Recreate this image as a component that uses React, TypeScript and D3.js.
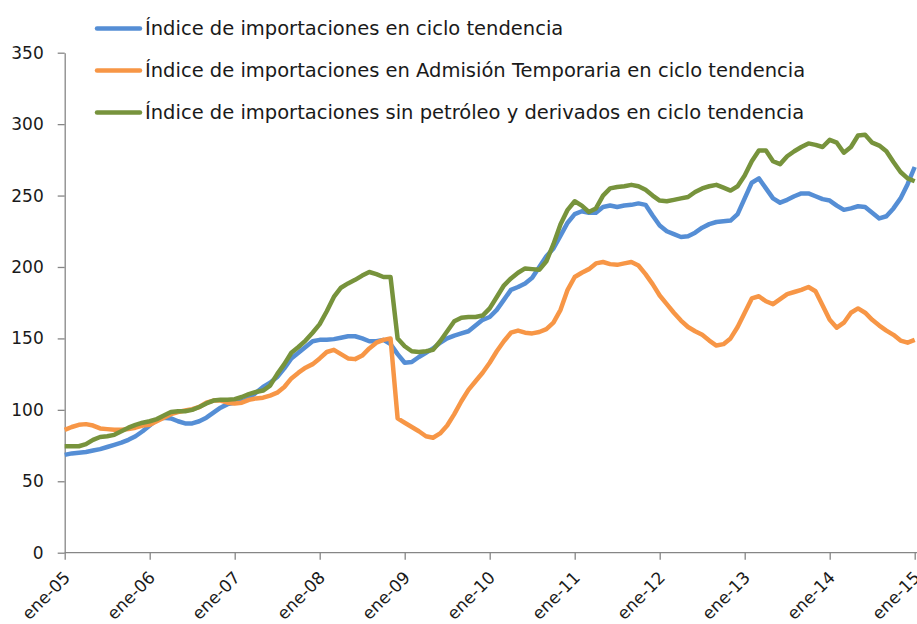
import React, { useRef, useEffect } from 'react';
import * as d3 from 'd3';

// monthly index values, ene-05 .. ene-15 (121 points)
const totalImports = [
  68.5, 69.5, 70, 70.5, 71.5, 72.5, 74, 75.5, 77, 79, 81.5, 85,
  89, 93, 94.5, 94, 92, 90.5, 90.5, 92, 94.5, 98, 101.5, 104,
  105, 106, 108, 112, 116, 119, 123, 129, 136, 140, 144, 148,
  149, 149, 149.5, 150.5, 151.5, 151.5, 150, 148, 148, 149, 146, 139,
  133, 133.5, 137, 140, 143, 147, 150, 152, 153.5, 155, 159, 163,
  165, 170, 177, 184, 186, 188.5, 192.5, 200, 207.5, 213, 222, 231,
  237, 239, 238, 238, 242, 243, 242, 243, 243.5, 244.5, 243.5, 236,
  229, 225, 223, 221, 221.5, 224, 227.5, 230, 231.5, 232, 232.5, 237,
  248, 259, 262, 255, 248, 245, 247, 249.5, 251.5, 251.5, 249.5, 247.5,
  246.5, 243, 240, 241, 242.5, 242, 238, 234, 235.5, 241, 248, 258,
  270,
];

const temporaryAdmission = [
  86, 88, 89.5, 90, 89, 87, 86.5, 86, 86, 86.5, 87.5, 89,
  89.5, 92, 94.5, 97, 98.5, 99.5, 100.5, 102, 105, 106.5, 106.5, 105,
  104.5, 105, 107, 108, 108.5, 110, 112, 116, 122, 126, 129.5, 132,
  136, 140.5, 142, 139, 136, 135.5, 138, 143, 147, 149, 150, 94,
  91, 88, 85, 81.5, 80.5, 83.5, 89, 97, 106, 114, 120, 126,
  133, 141, 148, 154, 155.5, 154, 153.5, 154.5, 156.5, 161, 170, 184,
  193, 196, 198.5, 202.5, 203.5, 202, 201.5, 202.5, 203.5, 201, 195, 188,
  180, 174, 168, 162.5, 158, 155, 152.5, 148.5, 145, 146, 150, 158,
  168, 178, 179.5, 176, 174, 177.5, 181, 182.5, 184, 186, 183, 173,
  163, 157.5, 161, 168, 171, 168, 163, 159, 155.5, 152.5, 148.5, 147,
  149,
];

const withoutOil = [
  74.5, 74.5, 74.5, 76, 79, 81, 81.5, 82.5, 85, 87.5, 89.5, 91,
  92, 93.5, 96, 98.5, 99, 99, 100, 102, 104.5, 106.5, 107, 107,
  107.5, 109, 111, 112.5, 113.5, 117, 125, 132, 140, 144, 148.5, 154,
  160, 169, 179, 185.5, 188.5, 191, 194, 196.5, 195, 193, 193, 150,
  144.5, 141, 140.5, 141, 142, 148, 155, 162, 164.5, 165, 165, 166,
  171, 179, 187, 192, 196, 199, 198.5, 198, 204, 216, 230, 240,
  246, 243, 238.5, 241, 250, 255, 256, 256.5, 257.5, 256.5, 254, 250,
  246.5, 246, 247, 248, 249, 252.5, 255, 256.5, 257.5, 255.5, 253.5, 256.5,
  264, 274, 281.5, 281.5, 274, 272, 277.5, 281, 284, 286.5, 285.5, 284,
  289, 287, 280, 284, 292, 292.5, 287, 285, 281, 273.5, 266.5, 262,
  260,
];

const yearLabels = ['ene-05', 'ene-06', 'ene-07', 'ene-08', 'ene-09', 'ene-10', 'ene-11', 'ene-12', 'ene-13', 'ene-14', 'ene-15'];
const yTicks = [0, 50, 100, 150, 200, 250, 300, 350];

const seriesNames = [
  'Índice de importaciones en ciclo tendencia',
  'Índice de importaciones en Admisión Temporaria en ciclo tendencia',
  'Índice de importaciones sin petróleo y derivados en ciclo tendencia',
];
const seriesData = [totalImports, temporaryAdmission, withoutOil];
const seriesColors = ['#558ED5', '#F79646', '#77933C'];

const App = () => {
  const svgRef = useRef<SVGSVGElement>(null);

  useEffect(() => {
    const width = 917;
    const height = 624;
    const margin = { top: 52.7, bottom: 71.3, left: 64.7 };
    const font = '"DejaVu Sans", Verdana, sans-serif';
    const axisColor = '#868686';

    const svg = d3.select(svgRef.current)
      .attr('width', width)
      .attr('height', height);
    svg.selectAll('*').remove();

    // 120 months, 85px per year
    const xScale = d3.scaleLinear()
      .domain([0, 120])
      .range([margin.left, margin.left + 850]);

    const yScale = d3.scaleLinear()
      .domain([0, 350])
      .range([height - margin.bottom, margin.top]);

    // y axis
    const yAxis = svg.append('g')
      .attr('transform', `translate(${margin.left},0)`)
      .call(d3.axisLeft(yScale).tickValues(yTicks).tickSize(7).tickSizeOuter(0));
    yAxis.select('.domain').attr('stroke', axisColor).attr('stroke-width', 1.3);
    yAxis.selectAll('.tick line').attr('stroke', axisColor).attr('stroke-width', 1.3);
    yAxis.selectAll('.tick text')
      .attr('x', -21)
      .attr('font-family', font)
      .attr('font-size', 17)
      .attr('fill', '#1a1a1a');

    // x axis
    const xAxis = svg.append('g')
      .attr('transform', `translate(0,${yScale(0)})`)
      .call(d3.axisBottom(xScale)
        .tickValues(yearLabels.map((_, i) => i * 12))
        .tickFormat((_, i) => yearLabels[i])
        .tickSize(7)
        .tickSizeOuter(0));
    xAxis.select('.domain').attr('stroke', axisColor).attr('stroke-width', 1.3)
      .attr('d', `M${margin.left},0H${width}`);
    xAxis.selectAll('.tick line').attr('stroke', axisColor).attr('stroke-width', 1.3);
    xAxis.selectAll('.tick text')
      .attr('font-family', font)
      .attr('font-size', 17)
      .attr('fill', '#1a1a1a')
      .attr('text-anchor', 'end')
      .attr('dy', null)
      .attr('y', null)
      .attr('transform', 'translate(6,26) rotate(-45)');

    // lines
    const line = d3.line<number>()
      .x((d, i) => xScale(i))
      .y((d) => yScale(d));

    seriesData.forEach((data, k) => {
      svg.append('path')
        .datum(data)
        .attr('fill', 'none')
        .attr('stroke', seriesColors[k])
        .attr('stroke-width', 4.5)
        .attr('stroke-linejoin', 'round')
        .attr('d', line);
    });

    // legend
    const legend = svg.append('g');
    seriesNames.forEach((name, k) => {
      const y = 28.5 + k * 42;
      legend.append('line')
        .attr('x1', 97).attr('x2', 140)
        .attr('y1', y).attr('y2', y)
        .attr('stroke', seriesColors[k])
        .attr('stroke-width', 4.5)
        .attr('stroke-linecap', 'round');
      legend.append('text')
        .attr('x', 145)
        .attr('y', y)
        .attr('dy', '0.35em')
        .attr('font-family', font)
        .attr('font-size', 19.5)
        .attr('fill', '#1a1a1a')
        .text(name);
    });
  }, []);

  return <svg ref={svgRef} style={{ position: 'absolute', left: 0, top: 0, display: 'block' }}></svg>;
};

export default App;
